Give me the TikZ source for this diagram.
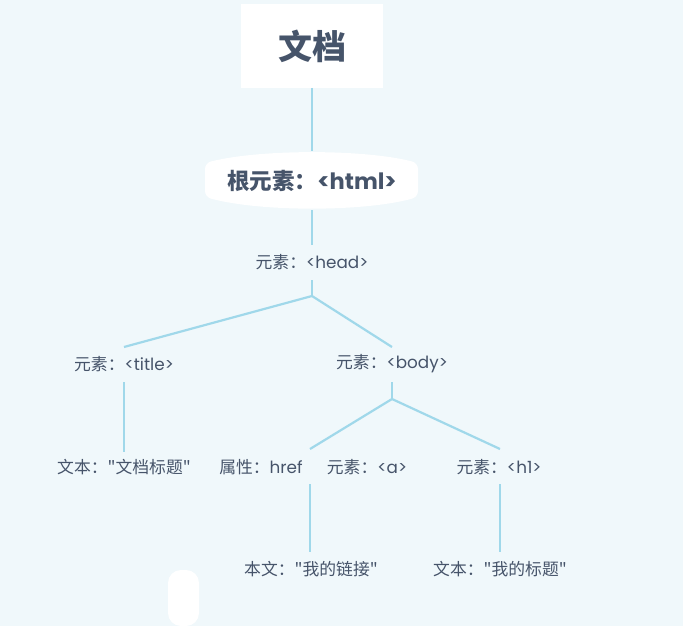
\documentclass[tikz,border=0pt]{standalone}
\usepackage{fontspec}
\setmainfont{Poppins}
\newfontfamily\cjk{Noto Sans CJK SC}
\definecolor{bgc}{RGB}{240,248,251}
\definecolor{linec}{RGB}{160,216,234}
\definecolor{txtc}{RGB}{70,84,106}
\tikzset{
  conn/.style={draw=linec, line width=2.2pt},
  lbl/.style={text=txtc, font=\fontsize{16.8}{18}\selectfont, inner sep=0pt, anchor=center},
}
\begin{document}
\begin{tikzpicture}[x=1pt,y=-1pt]
\useasboundingbox (0,0) rectangle (683,626);
\fill[bgc] (0,0) rectangle (683,626);
% title box
\fill[white] (241,4) rectangle (383,88);
\node[text=txtc, font=\fontsize{34}{36}\selectfont\bfseries, inner sep=0pt] (doc) at (312,46) {{\cjk 文档}};
\coordinate (docb) at (312,88);
% html node
\fill[white, rounded corners=6pt] (205,163) .. controls (260,149) and (364,149) .. (418,163) -- (418,197) .. controls (364,212) and (260,212) .. (205,197) -- cycle;
\node[text=txtc, font=\fontsize{22.5}{24}\selectfont\bfseries, inner sep=0pt] (html) at (312,181) {{\cjk 根元素：}<html>};
\coordinate (htmlt) at (312,151);
\coordinate (htmlb) at (312,210);
\draw[conn] (docb) -- (htmlt);
% head
\node[lbl] (head) at (312,262) {{\cjk 元素：}<head>};
\coordinate (headt) at (312,245);
\coordinate (headb) at (312,280);
\coordinate (headj) at (312,296);
\draw[conn] (htmlb) -- (headt);
\draw[conn] (headb) -- (headj);
% title and body
\node[lbl] (title) at (124,364) {{\cjk 元素：}<title>};
\node[lbl] (body) at (392,364) {{\cjk 元素：}<body>};
\coordinate (titlet) at (124,347);
\coordinate (bodyt) at (392,347);
\draw[conn] (headj) -- (titlet);
\draw[conn] (headj) -- (bodyt);
% title text
\coordinate (titleb) at (124,382);
\node[lbl] (ttext) at (124,467) {{\cjk 文本："文档标题"}};
\coordinate (ttextt) at (124,452);
\draw[conn] (titleb) -- (ttextt);
% body children
\coordinate (bodyb) at (392,382);
\coordinate (bodyj) at (392,399);
\draw[conn] (bodyb) -- (bodyj);
\node[lbl] (href) at (261,467) {{\cjk 属性：}href};
\node[lbl] (aelem) at (367,467) {{\cjk 元素：}<a>};
\node[lbl] (h1) at (499,467) {{\cjk 元素：}<h1>};
\coordinate (at) at (310,449);
\coordinate (h1t) at (500,449);
\draw[conn] (bodyj) -- (at);
\draw[conn] (bodyj) -- (h1t);
% leaves
\coordinate (ab) at (310,484);
\coordinate (h1b) at (500,484);
\node[lbl] (link) at (311,569) {{\cjk 本文："我的链接"}};
\node[lbl] (h1text) at (500,569) {{\cjk 文本："我的标题"}};
\coordinate (linkt) at (310,552);
\coordinate (h1textt) at (500,552);
\draw[conn] (ab) -- (linkt);
\draw[conn] (h1b) -- (h1textt);
% white pill
\fill[white, rounded corners=13pt] (168,570) rectangle (199,626);
\end{tikzpicture}
\end{document}
